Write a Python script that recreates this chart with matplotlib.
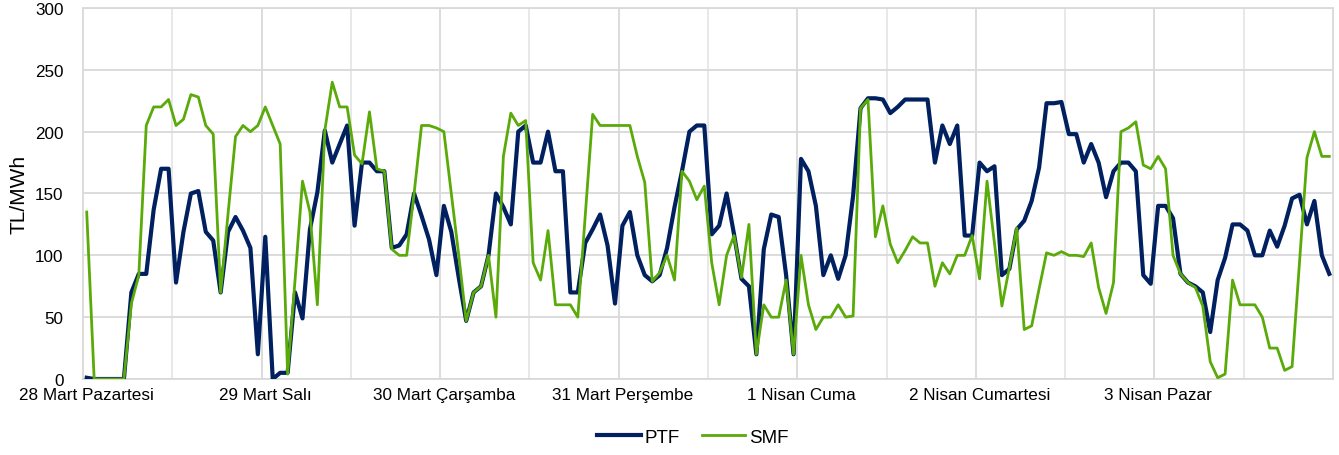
import matplotlib
matplotlib.use("Agg")
import matplotlib.pyplot as plt
import numpy as np

plt.rcParams['font.family'] = ['Liberation Sans', 'DejaVu Sans']

day_labels = ["28 Mart Pazartesi", "29 Mart Salı", "30 Mart Çarşamba", "31 Mart Perşembe",
              "1 Nisan Cuma", "2 Nisan Cumartesi", "3 Nisan Pazar"]

ptf = [1, 0, 0, 0, 0, 0, 70, 85, 85, 137, 170, 170, 78, 119, 150, 152, 119, 112, 70, 119, 131, 120, 106, 20,
       115, 0, 5, 5, 70, 49, 121, 151, 201, 175, 190, 205, 124, 175, 175, 168, 168, 106, 108, 117, 150, 132, 113, 84,
       140, 119, 82, 47, 70, 75, 100, 150, 139, 125, 200, 205, 175, 175, 200, 168, 168, 70, 70, 110, 121, 133, 108, 61,
       124, 135, 100, 84, 79, 84, 106, 139, 168, 200, 205, 205, 117, 124, 150, 117, 81, 75, 20, 105, 133, 131, 84, 20,
       178, 168, 140, 84, 100, 81, 100, 148, 219, 227, 227, 226, 215, 220, 226, 226, 226, 226, 175, 205, 190, 205, 116, 116,
       175, 168, 172, 84, 89, 121, 128, 144, 171, 223, 223, 224, 198, 198, 175, 190, 175, 147, 168, 175, 175, 168, 84, 77,
       140, 140, 130, 85, 78, 75, 70, 38, 80, 98, 125, 125, 120, 100, 100, 120, 107, 124, 146, 149, 125, 144, 100, 85]

smf = [135, 0, 0, 0, 0, 0, 61, 84, 205, 220, 220, 226, 205, 210, 230, 228, 205, 198, 70, 134, 196, 205, 200, 205,
       220, 205, 190, 4, 80, 160, 135, 60, 201, 240, 220, 220, 181, 174, 216, 170, 168, 105, 100, 100, 150, 205, 205, 203,
       200, 150, 100, 47, 70, 75, 100, 50, 180, 215, 205, 209, 94, 80, 120, 60, 60, 60, 50, 132, 214, 205, 205, 205,
       205, 205, 180, 159, 79, 86, 100, 80, 168, 160, 145, 156, 94, 60, 100, 116, 82, 125, 20, 60, 50, 50, 80, 20,
       100, 60, 40, 50, 50, 60, 50, 51, 219, 226, 115, 140, 109, 94, 104, 115, 110, 110, 75, 94, 85, 100, 100, 116,
       81, 160, 110, 59, 90, 122, 40, 43, 73, 102, 100, 103, 100, 100, 99, 110, 74, 53, 78, 200, 203, 208, 173, 170,
       180, 170, 100, 85, 78, 74, 59, 14, 1, 4, 80, 60, 60, 60, 50, 25, 25, 7, 10, 95, 179, 200, 180, 180]

y_ticks = [0, 50, 100, 150, 200, 250, 300]

hours = np.arange(len(ptf))

fig = plt.figure(figsize=(13.39, 4.56), dpi=100)
ax = fig.add_axes([83/1339, 1 - 380/456, (1333 - 83)/1339, (380 - 9)/456])

grid_c = '#d9d9d9'
for k in range(1, 14):
    ax.axvline(-0.5 + 12 * k, color=grid_c if k % 2 == 0 else '#e6e6e6', lw=1.3, zorder=0)
for yv in y_ticks:
    ax.axhline(yv, color=grid_c, lw=1.3, zorder=0)

ax.plot(hours, ptf, color='#002060', lw=3.0, label='PTF', zorder=3, solid_joinstyle='round')
ax.plot(hours, smf, color='#5AAA0A', lw=2.0, label='SMF', zorder=4, solid_joinstyle='round')

ax.set_xlim(-0.5, len(ptf) - 0.5)
ax.set_ylim(0, 300)
ax.set_yticks(y_ticks)
ax.set_xticks(np.arange(0, len(ptf), 24))
ax.set_xticklabels(day_labels)
ax.tick_params(axis='both', length=0, labelsize=12.3, colors='#000000')
ax.tick_params(axis='y', pad=14)
ax.tick_params(axis='x', pad=6)
for s in ax.spines.values():
    s.set_color(grid_c)
    s.set_linewidth(1.3)
ax.set_ylabel('TL/MWh', fontsize=15, labelpad=5)

fig.legend(loc='center', bbox_to_anchor=(693/1339, 1 - 438/456), ncol=2, frameon=False,
           fontsize=13.5, handlelength=2.3, columnspacing=1.2, handletextpad=0.2)

fig.savefig('out.png', dpi=100)
